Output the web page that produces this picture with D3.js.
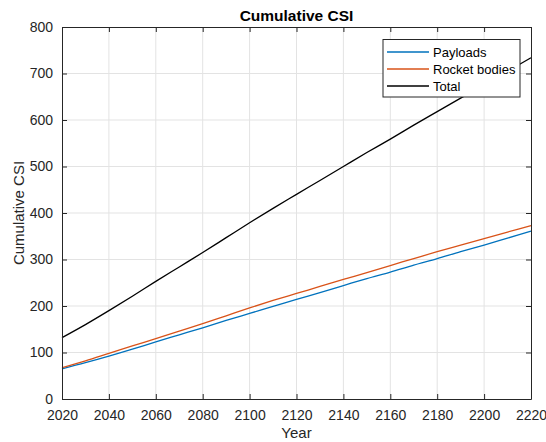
<!DOCTYPE html>
<html><head><meta charset="utf-8">
<script src="https://cdn.jsdelivr.net/npm/d3@7"></script>
<style>body{margin:0;background:#fff;}svg{display:block;font-family:"Liberation Sans",Arial,sans-serif;}</style>
</head><body><svg id="c" width="546" height="442"></svg>
<script>
const years = [2020,2030,2040,2050,2060,2070,2080,2090,2100,2110,2120,2130,2140,2150,2160,2170,2180,2190,2200,2210,2220];
const payloads = [65,78,92,107,123,138,153,169,184,199,214,229,244,259,273,288,302,317,331,346,361];
const rocketBodies = [67,82,98,114,130,146,162,179,196,212,227,242,257,272,287,302,317,331,345,359,373];
const total = [132,160,190,221,253,284,315,347,379,410,440,470,500,530,559,589,618,647,676,705,734];
const seriesNames = ["Payloads","Rocket bodies","Total"];
const seriesColors = ["#0072BD","#D95319","#000000"];
const xTicks = [2020,2040,2060,2080,2100,2120,2140,2160,2180,2200,2220];
const yTicks = [0,100,200,300,400,500,600,700,800];

const svg = d3.select("#c");
const L=62, R=531, T=27, B=399;
const x = d3.scaleLinear().domain([2020,2220]).range([L,R]);
const y = d3.scaleLinear().domain([0,800]).range([B,T]);
const axisCol = "#262626";

// grid
svg.append("g").selectAll("line.gx").data(xTicks.slice(1,-1)).join("line")
  .attr("x1",d=>x(d)).attr("x2",d=>x(d)).attr("y1",T).attr("y2",B)
  .attr("stroke","#e3e3e3").attr("stroke-width",1);
svg.append("g").selectAll("line.gy").data(yTicks.slice(1,-1)).join("line")
  .attr("y1",d=>y(d)).attr("y2",d=>y(d)).attr("x1",L).attr("x2",R)
  .attr("stroke","#e3e3e3").attr("stroke-width",1);

// lines
const sets = [payloads, rocketBodies, total];
const line = d3.line().x((d,i)=>x(years[i])).y(d=>y(d)).curve(d3.curveMonotoneX);
sets.forEach((s,k)=>{
  svg.append("path").datum(s).attr("d",line).attr("fill","none")
    .attr("stroke",seriesColors[k]).attr("stroke-width",1.3);
});

// axes
const tl = -5;
const xb = svg.append("g").attr("transform",`translate(0,${B})`)
  .call(d3.axisBottom(x).tickValues(xTicks).tickFormat(d3.format("d")).tickSizeInner(tl).tickSizeOuter(0).tickPadding(11));
const xt = svg.append("g").attr("transform",`translate(0,${T})`)
  .call(d3.axisTop(x).tickValues(xTicks).tickFormat("").tickSizeInner(tl).tickSizeOuter(0));
const yl = svg.append("g").attr("transform",`translate(${L},0)`)
  .call(d3.axisLeft(y).tickValues(yTicks).tickSizeInner(tl).tickSizeOuter(0).tickPadding(9));
const yr = svg.append("g").attr("transform",`translate(${R},0)`)
  .call(d3.axisRight(y).tickValues(yTicks).tickFormat("").tickSizeInner(tl).tickSizeOuter(0));
[xb,xt,yl,yr].forEach(g=>{
  g.selectAll("path").attr("stroke",axisCol).attr("stroke-width",1);
  g.selectAll("line").attr("stroke",axisCol).attr("stroke-width",1);
  g.selectAll("text").attr("fill",axisCol).attr("font-size",14).attr("font-family","Liberation Sans, Arial, sans-serif");
});

// title and labels
svg.append("text").attr("x",(L+R)/2).attr("y",20.5).attr("text-anchor","middle")
  .attr("font-size",15.5).attr("font-weight","bold").attr("fill","#000").text("Cumulative CSI");
svg.append("text").attr("x",(L+R)/2).attr("y",438).attr("text-anchor","middle")
  .attr("font-size",15).attr("fill",axisCol).text("Year");
svg.append("text").attr("transform",`translate(24,${(T+B)/2}) rotate(-90)`).attr("text-anchor","middle")
  .attr("font-size",15).attr("fill",axisCol).text("Cumulative CSI");

// legend
const lg = svg.append("g");
lg.append("rect").attr("x",383).attr("y",39.5).attr("width",137).attr("height",57.5)
  .attr("fill","#fff").attr("stroke",axisCol).attr("stroke-width",1);
seriesNames.forEach((n,i)=>{
  const yy = 52 + i*17;
  lg.append("line").attr("x1",387).attr("x2",429).attr("y1",yy).attr("y2",yy)
    .attr("stroke",seriesColors[i]).attr("stroke-width",1.3);
  lg.append("text").attr("x",433).attr("y",yy+4.5).attr("font-size",13).attr("fill","#000").text(n);
});
</script></body></html>
